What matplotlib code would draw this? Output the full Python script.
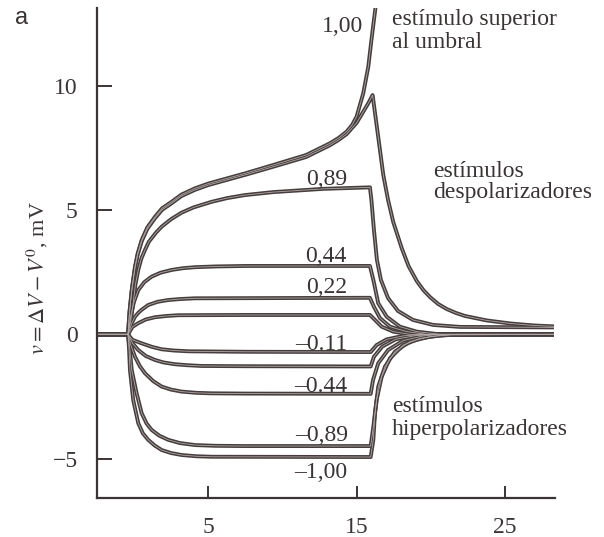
import matplotlib
matplotlib.use("Agg")
import matplotlib.pyplot as plt

# ---------------- data (time in ms, v in mV) ----------------
t_100 = [-2.5, -0.4, -0.3, -0.15, 0.07, 0.25, 0.52, 0.9, 1.42, 1.9, 2.54, 3.2, 4.11, 5.0, 5.9, 7.48, 9.39, 11.6,
         13.2, 13.8, 14.33, 14.7, 15.0, 15.45, 15.79, 16.0, 16.24, 16.4]
v_100 = [0, 0, 0.9, 1.78, 2.72, 3.25, 3.79, 4.3, 4.73, 5.07, 5.33, 5.62, 5.87, 6.06, 6.21, 6.47, 6.81, 7.21,
         7.68, 7.9, 8.15, 8.42, 8.75, 9.69, 10.76, 11.83, 12.97, 13.8]

t_sub = [-2.5, -0.4, -0.3, -0.15, 0.07, 0.25, 0.52, 0.9, 1.42, 1.9, 2.54, 3.2, 4.11, 5.0, 5.9, 7.48, 9.39, 11.6,
         13.2, 13.8, 14.33, 14.7, 15.0, 15.45, 15.8, 16.08,
         16.44, 16.80, 17.12, 17.47, 18.04, 18.5, 19.05, 19.5, 19.95, 20.5, 21.07, 21.7, 22.30, 23.77, 25.34, 26.89, 28.3]
v_sub = [0, 0, 0.87, 1.74, 2.67, 3.2, 3.74, 4.24, 4.67, 5.01, 5.27, 5.56, 5.81, 6.0, 6.15, 6.41, 6.74, 7.13,
         7.6, 7.82, 8.05, 8.3, 8.5, 8.95, 9.3, 9.62,
         8.02, 6.41, 5.41, 4.52, 3.47, 2.75, 2.15, 1.78, 1.5, 1.22, 1.02, 0.86, 0.74, 0.56, 0.44, 0.36, 0.32]

t_089 = [-2.5, -0.4, -0.2, -0.05, 0.1, 0.29, 0.5, 0.74, 1.0, 1.5, 1.87, 2.5, 3.2, 4.0, 5.24, 6.3, 7.48, 9.4, 12.76, 15.9,
         16.0, 16.17, 16.37, 16.64, 17.12, 17.79, 18.8, 20.15, 21.97, 28.3]
v_089 = [0, 0, 0.6, 1.25, 2.0, 2.59, 3.05, 3.39, 3.72, 4.1, 4.33, 4.63, 4.89, 5.1, 5.33, 5.48, 5.6, 5.72, 5.85, 5.91,
         5.40, 4.20, 3.0, 2.19, 1.46, 0.94, 0.58, 0.38, 0.30, 0.28]

t_044 = [-2.5, -0.4, -0.2, 0.0, 0.29, 0.7, 1.19, 1.8, 2.54, 3.3, 4.1, 5.5, 7.48, 15.9,
         16.13, 16.46, 17.03, 17.92, 19.05, 20.62, 28.3]
v_044 = [0, 0, 0.8, 1.3, 1.78, 2.1, 2.32, 2.48, 2.59, 2.66, 2.70, 2.73, 2.75, 2.75,
         2.19, 1.25, 0.71, 0.31, 0.11, 0, 0]

t_022 = [-2.5, -0.4, -0.15, 0.07, 0.3, 0.5, 0.96, 1.6, 2.3, 3.1, 4.1, 15.9,
         16.17, 16.58, 17.25, 18.38, 19.72, 28.3]
v_022 = [0, 0, 0.45, 0.71, 0.87, 0.98, 1.18, 1.31, 1.38, 1.42, 1.45, 1.47,
         1.11, 0.65, 0.31, 0.11, 0, 0]

t_011 = [-2.5, -0.4, -0.1, 0.29, 0.8, 1.42, 2.2, 3.0, 7.48, 15.9, 16.24, 16.69, 17.47, 18.6, 28.3]
v_011 = [0, 0, 0.3, 0.45, 0.6, 0.69, 0.74, 0.77, 0.78, 0.78, 0.58, 0.31, 0.11, 0, 0]

t_m011 = [-2.5, -0.4, -0.1, 0.52, 1.2, 1.87, 2.7, 3.66, 7.48, 15.95, 16.35, 17.03, 18.15, 19.5, 28.3]
v_m011 = [0, 0, -0.22, -0.36, -0.5, -0.6, -0.65, -0.68, -0.70, -0.71, -0.43, -0.2, -0.06, 0, 0]

t_m022 = [-2.5, -0.4, -0.1, 0.29, 0.8, 1.42, 2.0, 2.76, 3.6, 4.55, 7.48, 15.95,
          16.17, 16.73, 17.63, 18.98, 20.32, 28.3]
v_m022 = [0, 0, -0.35, -0.63, -0.87, -1.03, -1.13, -1.2, -1.24, -1.27, -1.28, -1.29,
          -0.9, -0.49, -0.2, -0.05, 0, 0]

t_m044 = [-2.5, -0.4, -0.2, 0.07, 0.4, 0.74, 1.3, 1.87, 2.5, 3.2, 4.2, 5.24, 7.48, 15.95,
          16.11, 16.46, 17.12, 18.15, 19.5, 20.62, 28.3]
v_m044 = [0, 0, -0.45, -0.9, -1.28, -1.56, -1.88, -2.10, -2.22, -2.30, -2.35, -2.37, -2.38, -2.39,
          -1.83, -1.16, -0.63, -0.25, -0.06, 0, 0]

t_m089 = [-2.5, -0.4, -0.28, -0.15, 0.18, 0.52, 0.85, 1.19, 1.7, 2.31, 3.1, 4.11, 5.5, 7.48, 15.95,
          16.13, 16.35, 16.69, 17.25, 18.15, 19.27, 20.62, 21.74, 28.3]
v_m089 = [0, 0, -0.6, -1.43, -2.37, -3.17, -3.58, -3.84, -4.07, -4.24, -4.37, -4.45, -4.48, -4.49, -4.49,
          -3.71, -2.64, -1.70, -0.96, -0.43, -0.16, -0.04, 0, 0]

t_m100 = [-2.5, -0.4, -0.33, -0.27, -0.05, 0.29, 0.6, 0.96, 1.4, 1.87, 2.5, 3.21, 4.2, 5.24, 15.95,
          16.13, 16.24, 16.46, 16.91, 17.59, 18.6, 19.95, 21.3, 28.3]
v_m100 = [0, 0, -0.6, -1.43, -2.64, -3.57, -3.98, -4.24, -4.47, -4.65, -4.77, -4.85, -4.9, -4.92, -4.93,
          -4.24, -3.17, -2.10, -1.30, -0.69, -0.29, -0.09, -0.02, 0]

curves = [(t_100, v_100), (t_sub, v_sub), (t_089, v_089), (t_044, v_044), (t_022, v_022), (t_011, v_011),
          (t_m011, v_m011), (t_m022, v_m022), (t_m044, v_m044), (t_m089, v_m089), (t_m100, v_m100)]

curve_labels = ["1,00", "0,89", "0,44", "0,22", "\u20130.11", "\u20130.44", "\u20130,89", "\u20131,00"]
label_t = [15.45, 14.35, 14.35, 14.35, 14.35, 14.4, 14.4, 14.4]
label_v = [12.17, 6.0, 2.91, 1.66, -0.63, -2.31, -4.28, -5.77]

x_ticks = [5, 15, 25]
y_ticks = [-5, 0, 5, 10]

# ---------------- figure ----------------
plt.rcParams['mathtext.fontset'] = 'stix'
serif = ['Liberation Serif', 'DejaVu Serif']
txt_col = '#3a3434'
line_dark = '#463e3e'
line_light = '#b0a6a6'
FS = 17

fig = plt.figure(figsize=(6.04, 5.37), dpi=100)
ax = fig.add_axes([97 / 604, 1 - 498.3 / 537, (555 - 97) / 604, (498.3 - 8) / 537])
ax.set_xlim(-2.49, 28.37)
ax.set_ylim(-6.59, 13.12)

for t, v in curves:
    ax.plot(t, v, color=line_dark, lw=2.8, solid_joinstyle='round', solid_capstyle='butt')
for t, v in curves:
    ax.plot(t, v, color=line_light, lw=0.6, solid_joinstyle='round', solid_capstyle='butt')

for s, tx, vy in zip(curve_labels, label_t, label_v):
    ax.text(tx, vy, s, ha='right', va='baseline', fontsize=FS, family=serif, color=txt_col)

notes = [(17.37, 12.44, "estímulo superior"), (17.37, 11.5, "al umbral"),
         (20.15, 6.34, "estímulos"), (20.15, 5.47, "despolarizadores"),
         (17.39, -3.11, "estímulos"), (17.39, -4.04, "hiperpolarizadores")]
for tx, vy, s in notes:
    ax.text(tx, vy, s, ha='left', va='baseline', fontsize=FS, family=serif, color=txt_col)

for side in ['top', 'right']:
    ax.spines[side].set_visible(False)
for side in ['left', 'bottom']:
    ax.spines[side].set_linewidth(1.6)
    ax.spines[side].set_color('#3a3434')

ax.set_xticks(x_ticks)
ax.set_yticks(y_ticks)
ax.set_xticklabels([str(x) for x in x_ticks], fontsize=FS, family=serif, color=txt_col)
ax.set_yticklabels(["\u22125" if y < 0 else str(y) for y in y_ticks], fontsize=FS, family=serif, color=txt_col)
ax.tick_params(axis='y', direction='in', length=11, width=1.4, pad=14, colors='#3a3434')
ax.tick_params(axis='x', direction='in', length=9, width=1.4, pad=13.5, colors='#3a3434')
ax.set_facecolor('white')

fig.text(37 / 604, 1 - 278 / 537, r"$v = \Delta V - V^0$, mV", rotation=90, ha='center', va='center',
         fontsize=16, family=serif, color=txt_col)
fig.text(22 / 604, 1 - 18 / 537, "a", ha='center', va='center', fontsize=17,
         family=['Liberation Sans', 'DejaVu Sans'], color=txt_col)

fig.savefig("out.png", dpi=100, facecolor='white')
